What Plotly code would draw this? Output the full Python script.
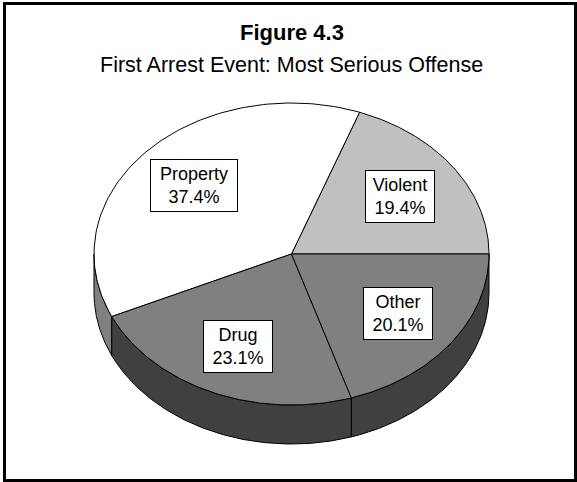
import numpy as np
import plotly.graph_objects as go

# Offense categories and their shares of first arrests (percent)
categories = ["Violent", "Property", "Drug", "Other"]
shares = [19.4, 37.4, 23.1, 20.1]

# Fill colours for the top faces and the visible side walls
top_colors = ["#c0c0c0", "#ffffff", "#808080", "#808080"]
side_colors = ["#606060", "#808080", "#404040", "#404040"]

title_text = "Figure 4.3"
subtitle_text = "First Arrest Event: Most Serious Offense"

W, H = 577, 482
# Tilted-disc geometry (pixel units on the axes below)
CX, CY = 291.5, 254.0
RX, RY = 197.5, 151.0
DEPTH = 39.0
LABEL_R = 0.67
FONT = "Arial, 'Liberation Sans', sans-serif"


def rim(t0, t1, dy=0.0, n=120):
    t = np.radians(np.linspace(t0, t1, n))
    return CX + RX * np.cos(t), CY - RY * np.sin(t) + dy


# Slice angles, counter-clockwise from 3 o'clock
total = float(sum(shares))
edges = np.concatenate([[0.0], np.cumsum(shares) / total * 360.0])

fig = go.Figure()

# Side walls: only the front half (180..360 deg) is visible
for i in range(len(categories)):
    a, b = max(edges[i], 180.0), min(edges[i + 1], 360.0)
    if b <= a:
        continue
    xt, yt = rim(a, b)
    xb, yb = rim(b, a, DEPTH)
    fig.add_trace(go.Scatter(
        x=np.concatenate([xt, xb, xt[:1]]),
        y=np.concatenate([yt, yb, yt[:1]]),
        mode="lines", fill="toself", fillcolor=side_colors[i],
        line=dict(color="black", width=1), hoverinfo="skip", showlegend=False,
    ))

# Top faces
for i in range(len(categories)):
    xa, ya = rim(edges[i], edges[i + 1])
    fig.add_trace(go.Scatter(
        x=np.concatenate([[CX], xa, [CX]]),
        y=np.concatenate([[CY], ya, [CY]]),
        mode="lines", fill="toself", fillcolor=top_colors[i],
        line=dict(color="black", width=1), hoverinfo="skip", showlegend=False,
    ))

# Boxed category labels at each slice's mid-angle
box_w = {"Property": 82}
for i, name in enumerate(categories):
    mid = np.radians((edges[i] + edges[i + 1]) / 2)
    fig.add_annotation(
        x=CX + LABEL_R * RX * np.cos(mid),
        y=CY - LABEL_R * RY * np.sin(mid),
        text=f"{name}<br>{shares[i]:.1f}%",
        showarrow=False, xanchor="center", yanchor="middle",
        font=dict(family=FONT, size=18, color="black"),
        bgcolor="white", bordercolor="black", borderwidth=1, borderpad=2,
        width=box_w.get(name, 64), height=47,
    )

# Headings
fig.add_annotation(x=W / 2 + 3, y=32, text=f"<b>{title_text}</b>", showarrow=False,
                   xanchor="center", yanchor="middle",
                   font=dict(family=FONT, size=22, color="black"))
fig.add_annotation(x=W / 2 + 3, y=65, text=subtitle_text, showarrow=False,
                   xanchor="center", yanchor="middle",
                   font=dict(family=FONT, size=21.5, color="black"))

# Outer frame
fig.add_shape(type="rect", x0=4.5, y0=3.5, x1=575.5, y1=480.5,
              line=dict(color="black", width=3), fillcolor="rgba(0,0,0,0)", layer="above")

fig.update_layout(
    width=W, height=H, autosize=False,
    margin=dict(l=0, r=0, t=0, b=0),
    paper_bgcolor="white", plot_bgcolor="white",
    xaxis=dict(range=[0, W], visible=False, fixedrange=True),
    yaxis=dict(range=[H, 0], visible=False, fixedrange=True),
)

fig.write_html("out.html", config={"displayModeBar": False})
